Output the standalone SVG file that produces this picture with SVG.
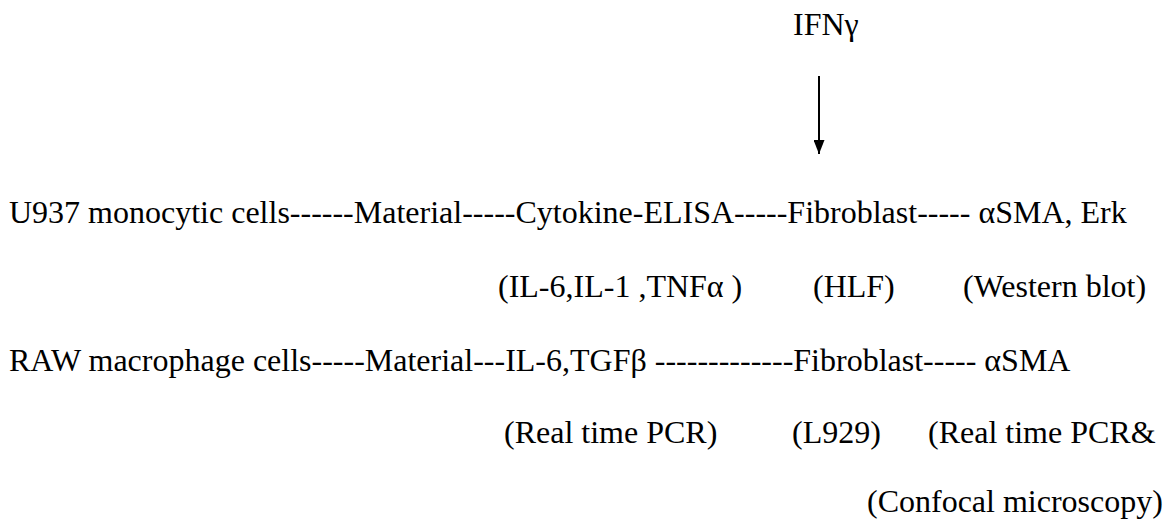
<svg xmlns="http://www.w3.org/2000/svg" width="1166" height="521" viewBox="0 0 1166 521">
<style>
text{font-family:"Liberation Serif","Times New Roman",serif;font-size:32px;fill:#000}
</style>
<defs>
<marker id="ah" viewBox="0 0 14 11" refX="14" refY="5.5" markerWidth="14" markerHeight="11" markerUnits="userSpaceOnUse" orient="auto">
<path d="M0,0 L14,5.5 L0,11 Z" fill="#000"/>
</marker>
</defs>
<rect width="1166" height="521" fill="#fff"/>
<g id="connectors">
<line x1="819" y1="76" x2="819" y2="154" stroke="#000" stroke-width="2" marker-end="url(#ah)"/>
</g>
<g id="ifn"><text x="793" y="35">IFNγ</text></g>
<g id="row1"><text x="9" y="223">U937 monocytic cells------Material-----Cytokine-ELISA-----Fibroblast----- αSMA, Erk</text></g>
<g id="row1-sub">
<text x="498" y="297">(IL-6,IL-1 ,TNFα )</text>
<text x="813" y="297">(HLF)</text>
<text x="963" y="297">(Western blot)</text>
</g>
<g id="row2"><text x="9" y="371">RAW macrophage cells-----Material---IL-6,TGFβ -------------Fibroblast----- αSMA</text></g>
<g id="row2-sub">
<text x="504" y="443">(Real time PCR)</text>
<text x="792" y="443">(L929)</text>
<text x="928" y="443">(Real time PCR&amp;</text>
</g>
<g id="row3"><text x="867" y="512">(Confocal microscopy)</text></g>
</svg>
